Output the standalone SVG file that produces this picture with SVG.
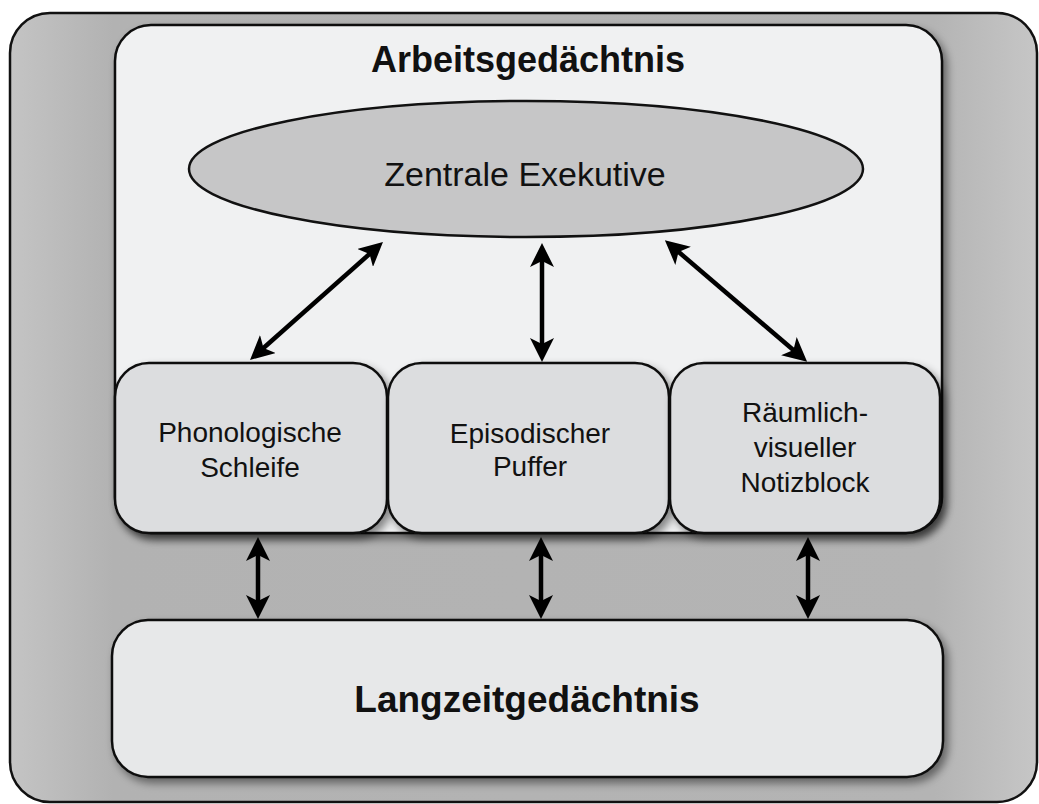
<svg xmlns="http://www.w3.org/2000/svg" width="1039" height="804" viewBox="0 0 1039 804">
  <defs>
    <style>
      .frame { stroke: #111; stroke-width: 2.5; }
      .box { fill: #dcdddf; stroke: #111; stroke-width: 2.5; }
      .t { font-family: "Liberation Sans", Arial, sans-serif; fill: #111; text-anchor: middle; }
      .b { font-weight: bold; }
      .lbl { font-size: 28px; }
      .conn { stroke: #000; stroke-width: 4.5; fill: none; marker-start: url(#ah); marker-end: url(#ah); }
    </style>
    <filter id="sh" x="-10%" y="-10%" width="125%" height="130%">
      <feDropShadow dx="4" dy="5" stdDeviation="4" flood-color="#000" flood-opacity="0.45"/>
    </filter>
    <linearGradient id="outerG" x1="0" y1="0" x2="1" y2="0">
      <stop offset="0" stop-color="#c4c4c4"/>
      <stop offset="0.1" stop-color="#b2b2b2"/>
      <stop offset="0.9" stop-color="#b4b4b4"/>
      <stop offset="1" stop-color="#c6c6c6"/>
    </linearGradient>
    <marker id="ah" viewBox="0 0 24 24" refX="12" refY="12" markerWidth="24" markerHeight="24" markerUnits="userSpaceOnUse" orient="auto-start-reverse">
      <path d="M0,0 L24,12 L0,24 L6,12 Z" fill="#000"/>
    </marker>
  </defs>

  <rect x="0" y="0" width="1039" height="804" fill="#ffffff"/>

  <g id="outer">
    <rect class="frame" x="10" y="13" width="1027" height="789" rx="40" ry="40" fill="url(#outerG)"/>
  </g>

  <g id="arbeitsgedaechtnis">
    <rect class="frame" x="115" y="25" width="827" height="508" rx="36" ry="36" fill="#f0f1f2" filter="url(#sh)"/>
    <text class="t b" x="528" y="72" font-size="36">Arbeitsgedächtnis</text>
  </g>

  <g id="zentrale-exekutive">
    <ellipse cx="526" cy="169" rx="337" ry="68" fill="#c6c6c7" stroke="#111" stroke-width="2.5"/>
    <text class="t" x="525" y="186" font-size="34">Zentrale Exekutive</text>
  </g>

  <g id="phonologische-schleife">
    <rect class="box" x="115" y="363" width="272" height="170" rx="34" ry="34" filter="url(#sh)"/>
    <text class="t lbl" x="250" y="442">Phonologische</text>
    <text class="t lbl" x="250" y="477">Schleife</text>
  </g>

  <g id="episodischer-puffer">
    <rect class="box" x="388" y="363" width="281" height="170" rx="34" ry="34" filter="url(#sh)"/>
    <text class="t lbl" x="530" y="443">Episodischer</text>
    <text class="t lbl" x="530" y="476">Puffer</text>
  </g>

  <g id="raeumlich-visueller-notizblock">
    <rect class="box" x="670" y="363" width="270" height="170" rx="34" ry="34" filter="url(#sh)"/>
    <text class="t lbl" x="805" y="422">Räumlich-</text>
    <text class="t lbl" x="805" y="457">visueller</text>
    <text class="t lbl" x="805" y="492">Notizblock</text>
  </g>

  <g id="langzeitgedaechtnis">
    <rect class="frame" x="112" y="620" width="831" height="157" rx="36" ry="36" fill="#e7e8e9" filter="url(#sh)"/>
    <text class="t b" x="527" y="712" font-size="37">Langzeitgedächtnis</text>
  </g>

  <g id="connectors">
    <line class="conn" x1="259" y1="352" x2="374" y2="250"/>
    <line class="conn" x1="542" y1="255" x2="542" y2="350"/>
    <line class="conn" x1="674" y1="248" x2="798" y2="354"/>
    <line class="conn" x1="258" y1="549" x2="258" y2="607"/>
    <line class="conn" x1="541" y1="549" x2="541" y2="607"/>
    <line class="conn" x1="808" y1="549" x2="808" y2="607"/>
  </g>
</svg>
